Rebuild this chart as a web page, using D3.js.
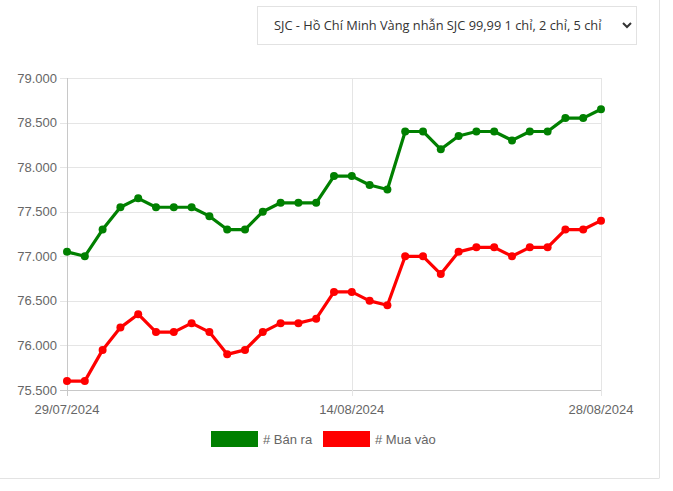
<!DOCTYPE html>
<html><head><meta charset="utf-8">
<script src="https://cdn.jsdelivr.net/npm/d3@7/dist/d3.min.js"></script>
<style>
html,body{margin:0;padding:0;background:#fff;}
svg{display:block;}
</style></head>
<body>
<svg id="c" width="673" height="491"></svg>
<script>
const dates = ["29/07/2024","30/07/2024","31/07/2024","01/08/2024","02/08/2024","03/08/2024","04/08/2024","05/08/2024","06/08/2024","07/08/2024","08/08/2024","09/08/2024","10/08/2024","11/08/2024","12/08/2024","13/08/2024","14/08/2024","15/08/2024","16/08/2024","17/08/2024","18/08/2024","19/08/2024","20/08/2024","21/08/2024","22/08/2024","23/08/2024","24/08/2024","25/08/2024","26/08/2024","27/08/2024","28/08/2024"];
const banRa = [77050,77000,77300,77550,77650,77550,77550,77550,77450,77300,77300,77500,77600,77600,77600,77900,77900,77800,77750,78400,78400,78200,78350,78400,78400,78300,78400,78400,78550,78550,78650];
const muaVao = [75600,75600,75950,76200,76350,76150,76150,76250,76150,75900,75950,76150,76250,76250,76300,76600,76600,76500,76450,77000,77000,76800,77050,77100,77100,77000,77100,77100,77300,77300,77400];
const yTicks = [75500,76000,76500,77000,77500,78000,78500,79000];
const xTickLabels = ["29/07/2024","14/08/2024","28/08/2024"];
const seriesNames = ["# Bán ra","# Mua vào"];
const seriesColors = ["#008000","#ff0000"];
const selectText = "SJC - Hồ Chí Minh Vàng nhẫn SJC 99,99 1 chỉ, 2 chỉ, 5 chỉ";

const svg = d3.select("#c");
const L=67,R=601,T=78,B=390;
const x = d3.scalePoint().domain(dates).range([L,R]);
const y = d3.scaleLinear().domain([75500,79000]).range([B,T]);
const fmtY = v => (v/1000).toFixed(3);

// card borders
svg.append("line").attr("x1",659.5).attr("x2",659.5).attr("y1",0).attr("y2",478).attr("stroke","#e3e3e3");
svg.append("line").attr("x1",0).attr("x2",659.5).attr("y1",478.5).attr("y2",478.5).attr("stroke","#e3e3e3");

// dropdown
const dd = svg.append("g");
dd.append("rect").attr("x",257.5).attr("y",6.5).attr("width",379).attr("height",38).attr("fill","#fff").attr("stroke","#e2e2e2");
dd.append("text").attr("x",274).attr("y",30).attr("font-family","'Open Sans', 'Noto Sans', sans-serif").attr("font-size",12.8).attr("fill","#333").text(selectText);
dd.append("path").attr("d","M623,23 l4,4 l4,-4").attr("fill","none").attr("stroke","#333").attr("stroke-width",2);

const gfont = "'Liberation Sans', Arial, sans-serif";
// horizontal gridlines
svg.append("g").selectAll("line").data(yTicks).join("line")
  .attr("x1",60).attr("x2",R).attr("y1",d=>Math.round(y(d))+0.5).attr("y2",d=>Math.round(y(d))+0.5)
  .attr("stroke",d=>d===75500?"#c8c8c8":"#e5e5e5");
// vertical gridlines
svg.append("g").selectAll("line").data(xTickLabels).join("line")
  .attr("x1",d=>Math.round(x(d))+0.5).attr("x2",d=>Math.round(x(d))+0.5).attr("y1",T).attr("y2",B+6)
  .attr("stroke",(d,i)=>i===0?"#c8c8c8":"#e5e5e5");

// y labels
svg.append("g").selectAll("text").data(yTicks).join("text")
  .attr("x",57).attr("y",d=>y(d)+4.5).attr("text-anchor","end")
  .attr("font-family",gfont).attr("font-size",13).attr("fill","#666").text(fmtY);
// x labels
svg.append("g").selectAll("text").data(xTickLabels).join("text")
  .attr("x",d=>x(d)).attr("y",414).attr("text-anchor","middle")
  .attr("font-family",gfont).attr("font-size",13).attr("fill","#666").text(d=>d);

// lines
const line = d3.line().x((d,i)=>x(dates[i])).y(d=>y(d));
[banRa,muaVao].forEach((s,k)=>{
  svg.append("path").datum(s).attr("d",line).attr("fill","none").attr("stroke",seriesColors[k]).attr("stroke-width",3.2).attr("stroke-linejoin","round");
  svg.append("g").selectAll("circle").data(s).join("circle")
    .attr("cx",(d,i)=>x(dates[i])).attr("cy",d=>y(d)).attr("r",4).attr("fill",seriesColors[k]);
});

// legend
const lg = svg.append("g");
const lx=[211,323];
seriesNames.forEach((n,k)=>{
  lg.append("rect").attr("x",lx[k]).attr("y",431).attr("width",47).attr("height",16).attr("fill",seriesColors[k]);
  lg.append("text").attr("x",lx[k]+52).attr("y",443.5).attr("font-family",gfont).attr("font-size",13).attr("fill","#666").text(n);
});
</script>
</body></html>
